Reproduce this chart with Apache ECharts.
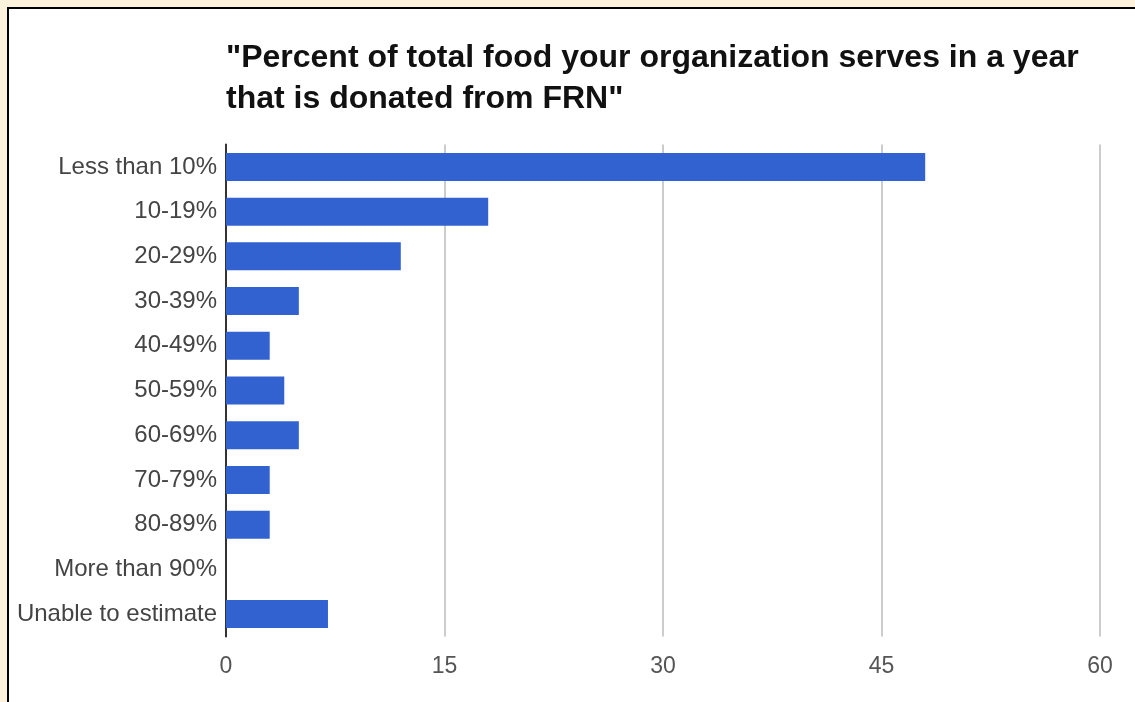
<!DOCTYPE html>
<html><head><meta charset="utf-8">
<script src="https://cdn.jsdelivr.net/npm/echarts@6/dist/echarts.min.js"></script>
<style>
html,body{margin:0;padding:0;width:1135px;height:702px;overflow:hidden;background:#fdf3dd;}
#frame{position:absolute;left:7px;top:7px;width:1140px;height:710px;border:2px solid #000;background:#fff;box-sizing:border-box;}
#chart{position:absolute;left:0;top:0;width:1135px;height:702px;}
</style></head>
<body>
<div id="frame"></div>
<div id="chart"></div>
<script>
const titleText = '"Percent of total food your organization serves in a year\nthat is donated from FRN"';
const categories = ['Less than 10%','10-19%','20-29%','30-39%','40-49%','50-59%','60-69%','70-79%','80-89%','More than 90%','Unable to estimate'];
const values = [48,18,12,5,3,4,5,3,3,0,7];
const xTicks = [0,15,30,45,60];

const chart = echarts.init(document.getElementById('chart'));
chart.setOption({
  backgroundColor: 'transparent',
  animation: false,
  title: {
    text: titleText,
    left: 221, top: 33,
    textStyle: {fontFamily: 'Liberation Sans, Arial, sans-serif', fontSize: 32, fontWeight: 'bold', color: '#111', lineHeight: 41}
  },
  grid: {left: 226, right: 35, top: 144.6, bottom: 65.6, containLabel: false},
  xAxis: {
    type: 'value', min: xTicks[0], max: xTicks[xTicks.length-1], interval: 15,
    axisLine: {show: false}, axisTick: {show: false},
    splitLine: {show: true, lineStyle: {color: '#cccccc', width: 2}},
    axisLabel: {color: '#555', fontSize: 23, fontFamily: 'Liberation Sans, Arial, sans-serif', margin: 19}
  },
  yAxis: {
    type: 'category', data: categories, inverse: true,
    axisLine: {show: true, lineStyle: {color: '#333', width: 2}},
    axisTick: {show: false},
    axisLabel: {color: '#444', fontSize: 24, fontFamily: 'Liberation Sans, Arial, sans-serif', margin: 9}
  },
  series: [{
    type: 'bar', data: values, barWidth: 28,
    itemStyle: {color: '#3262cf'}
  }]
});
</script>
</body></html>
